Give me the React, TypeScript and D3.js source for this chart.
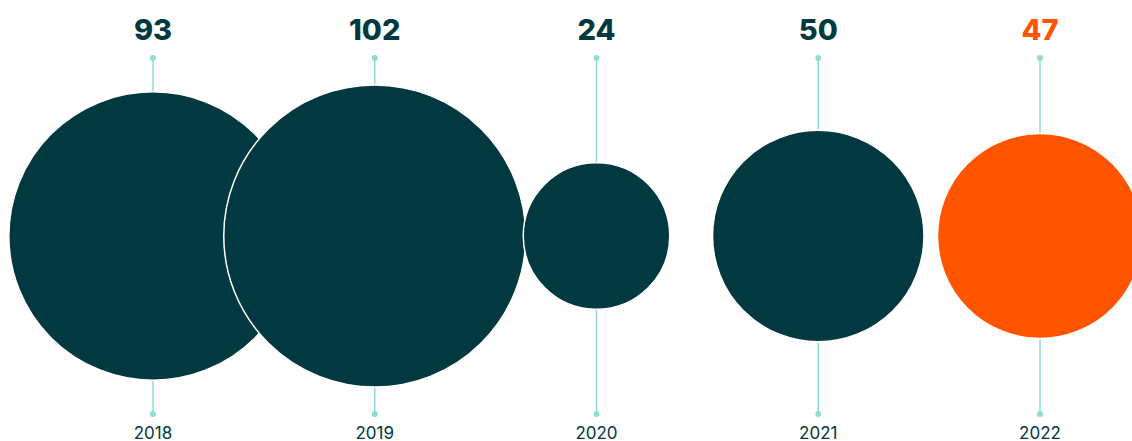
import React from "react";
import * as d3 from "d3";

const years = ["2018", "2019", "2020", "2021", "2022"];
const values = [93, 102, 24, 50, 47];
const highlightYear = "2022";

const W = 1132;
const H = 441;
const DARK = "#023840";
const ORANGE = "#ff5400";
const LINE = "#8fdcd6";

export default function App() {
  const x = d3.scalePoint<string>().domain(years).range([153, 1040]);
  const r = d3.scaleSqrt().domain([0, 102]).range([0, 151]);
  const cy = 236;
  const topDot = 58;
  const botDot = 414;
  return (
    <svg width={W} height={H} style={{ position: "absolute", left: 0, top: 0 }} fontFamily="Inter, 'Noto Sans', sans-serif">
      {years.map((y) => (
        <g key={"l" + y}>
          <line x1={x(y)} x2={x(y)} y1={topDot} y2={botDot} stroke={LINE} strokeWidth={1.5} />
          <circle cx={x(y)} cy={topDot} r={3} fill={LINE} />
          <circle cx={x(y)} cy={botDot} r={3} fill={LINE} />
        </g>
      ))}
      {years.map((y, i) => (
        <circle
          key={"c" + y}
          cx={x(y)}
          cy={cy}
          r={r(values[i])}
          fill={y === highlightYear ? ORANGE : DARK}
          stroke="#ffffff"
          strokeWidth={1.5}
        />
      ))}
      {years.map((y, i) => (
        <text
          key={"v" + y}
          x={x(y)}
          y={40}
          textAnchor="middle"
          fontSize={29}
          fontWeight={800}
          fill={y === highlightYear ? ORANGE : DARK}
        >
          {values[i]}
        </text>
      ))}
      {years.map((y) => (
        <text key={"y" + y} x={x(y)} y={438.5} textAnchor="middle" fontSize={17} fill={DARK}>
          {y}
        </text>
      ))}
    </svg>
  );
}
